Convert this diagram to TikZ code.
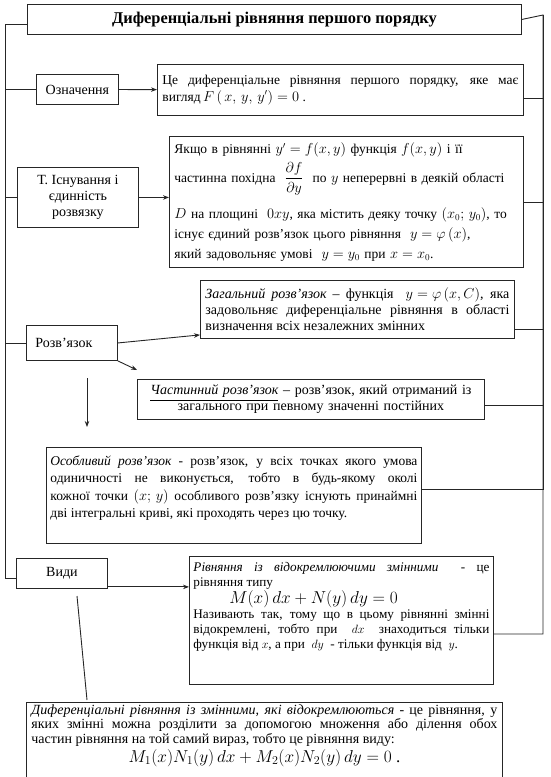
\documentclass[tikz,border=0pt]{standalone}
\usepackage{fontspec}
\setmainfont{Liberation Serif}
\usepackage{amsmath}
\usetikzlibrary{arrows.meta,calc}
\colorlet{lineclr}{black!85}
\tikzset{
  tbox/.style={draw=lineclr,line width=0.9pt,anchor=north west,inner xsep=5pt,inner ysep=2pt,
               align=justify,font=\fontsize{13.5}{16.5}\selectfont},
  lbox/.style={draw=lineclr,line width=0.9pt,anchor=north west,inner sep=0pt,align=center,
               font=\fontsize{14}{16}\selectfont},
  link/.style={draw=lineclr,line width=0.9pt},
  arr/.style={link,-{Stealth[length=6pt,width=4.5pt]}},
}

\begin{document}
\begin{tikzpicture}[x=1pt,y=1pt]
  \useasboundingbox (0,0) rectangle (550,-777);
  \clip (0,0) rectangle (550,-777);
  \node[lbox,minimum width=494pt,minimum height=30pt,font=\fontsize{16.4}{19}\selectfont\bfseries] (title) at (27,-4) {Диференціальні рівняння першого порядку};
  \node[lbox,minimum width=82pt,minimum height=30pt] (oznach) at (36,-74) {Означення};
  \node[lbox,minimum width=121pt,minimum height=60pt] (teor) at (17,-167) {Т. Існування і\\єдинність\\розвязку};
  \node[lbox,minimum height=35pt,inner xsep=9pt,text width=73pt,align=left] (rozv) at (26,-325) {Розв'язок};
  \node[lbox,minimum width=91pt,minimum height=30pt] (vydy) at (16,-558) {Види};
  \node[tbox,text width=356pt,minimum height=51pt] (def) at (157,-64) {Це диференціальне рівняння першого порядку, яке має\linebreak вигляд$\,F\,(\,x,\,y,\,y')=0$ .};
  \node[tbox,align=left,text width=344pt,minimum height=131pt,font=\fontsize{13.5}{20}\selectfont] (thm) at (169,-136) {Якщо в рівнянні $y'=f(x,y)$ функція $f(x,y)$ і її\\
    \rule[-24pt]{0pt}{48pt}частинна похідна \ $\dfrac{\partial f}{\partial y}$ \ по $y$ неперервні в деякій області\\
    $D$ на площині \ $0xy$, яка містить деяку точку $(x_0;\,y_0)$, то\\
    існує єдиний розв'язок цього рівняння \ $y=\varphi\,(x)$,\\
    який задовольняє умові \ $y=y_0$ при $x=x_0$.};
  \node[tbox,text width=304pt,minimum height=58pt,font=\fontsize{14}{16}\selectfont] (zag) at (200,-280) {\parfillskip=0pt \textit{Загальний розв'язок} -- функція \ \mbox{$y=\varphi\,(x,C)$}, яка\linebreak задовольняє диференціальне рівняння в області\linebreak визначення всіх незалежних змінних};
  \node[tbox,align=center,text width=337pt,minimum height=40pt,font=\fontsize{14}{16}\selectfont] (chast) at (137,-379) {\underline{\textit{Частинний розв'язок}} -- розв'язок, який отриманий із\\загального при певному значенні постійних};
  \node[tbox,inner xsep=4pt,text width=367pt,minimum height=96pt,font=\fontsize{13.5}{17.5}\selectfont] (osob) at (46,-447) {\textit{Особливий розв'язок} - розв'язок, у всіх точках якого умова\linebreak одиничності не виконується, тобто в будь-якому околі\linebreak кожної точки $(x;\,y)$ особливого розв'язку існують принаймні\linebreak дві інтегральні криві, які проходять через цю точку.\par\rule{0pt}{10pt}};
  \node[tbox,inner xsep=4pt,text width=296pt,minimum height=128pt,font=\fontsize{13.2}{15}\selectfont] (rivn) at (189,-556) {\textit{Рівняння із відокремлюючими змінними}\ \ - це\linebreak рівняння типу\\
    \hspace*{36pt}{\fontsize{19}{20}\selectfont $M(x)\,dx+N(y)\,dy=0$}\\
    Називають так, тому що в цьому рівнянні змінні\linebreak відокремлені, тобто при \ $dx$ \ знаходиться тільки\linebreak функція від $x$, а при \ $dy$ \ - тільки функція від \ $y$.\par\rule{0pt}{27pt}};
  \node[tbox,text width=466pt,font=\fontsize{14}{14.5}\selectfont] (sep) at (26,-702) {\textit{Диференціальні рівняння із змінними, які відокремлюються} - це рівняння, у\linebreak яких змінні можна розділити за допомогою множення або ділення обох\linebreak частин рівняння на той самий вираз, тобто це рівняння виду:\par
    {\centering\fontsize{17}{19}\selectfont $M_1(x)N_1(y)\,dx+M_2(x)N_2(y)\,dy=0$ .\par}\rule{0pt}{30pt}};
  \coordinate (ltop) at (5,-24);
  \coordinate (lbot) at (5,-578);
  \coordinate (rtop) at (543,-15);
  \coordinate (rbot) at (543,-634);
  \draw[link] (title.west |- ltop) -- (ltop) -- (lbot) -- (lbot -| vydy.west);
  \draw[link] (oznach.west) -| (ltop);
  \draw[link] (teor.west) -| (ltop);
  \draw[link] (rozv.west) -| (ltop);
  \draw[link] (title.east) -- (rtop) -- (rbot) -- (rbot -| rivn.east);
  \draw[link] ($(def.east)+(0,-8)$) -| (rtop);
  \draw[link] (thm.east) -| (rtop);
  \draw[link] ($(zag.south east)+(0,9)$) -| (rtop);
  \draw[link] ($(chast.east)+(0,-6)$) -| (rtop);
  \draw[link] ($(osob.east)+(0,6)$) -| (rtop);
  \draw[arr] (oznach) -- (def);
  \draw[arr] (teor.east) -- (teor.east -| thm.west);
  \draw[arr] (rozv.east) -- ($(zag.south west)+(0,4)$);
  \draw[arr] (rozv.south east) -- ($(chast.north west)+(0,9)$);
  \coordinate (rozvout) at (87,-378);
  \coordinate (osobin) at (87,-427);
  \draw[arr] (rozvout) -- (osobin);
  \draw[arr] ($(vydy.south east)+(0,2)$) -- ($(vydy.south east -| rivn.west)+(0,2)$);
  \coordinate (vydyout) at (77,-596);
  \coordinate (sepin) at (87,-700);
  \draw[link] (vydyout) -- (sepin);
\end{tikzpicture}
\end{document}
